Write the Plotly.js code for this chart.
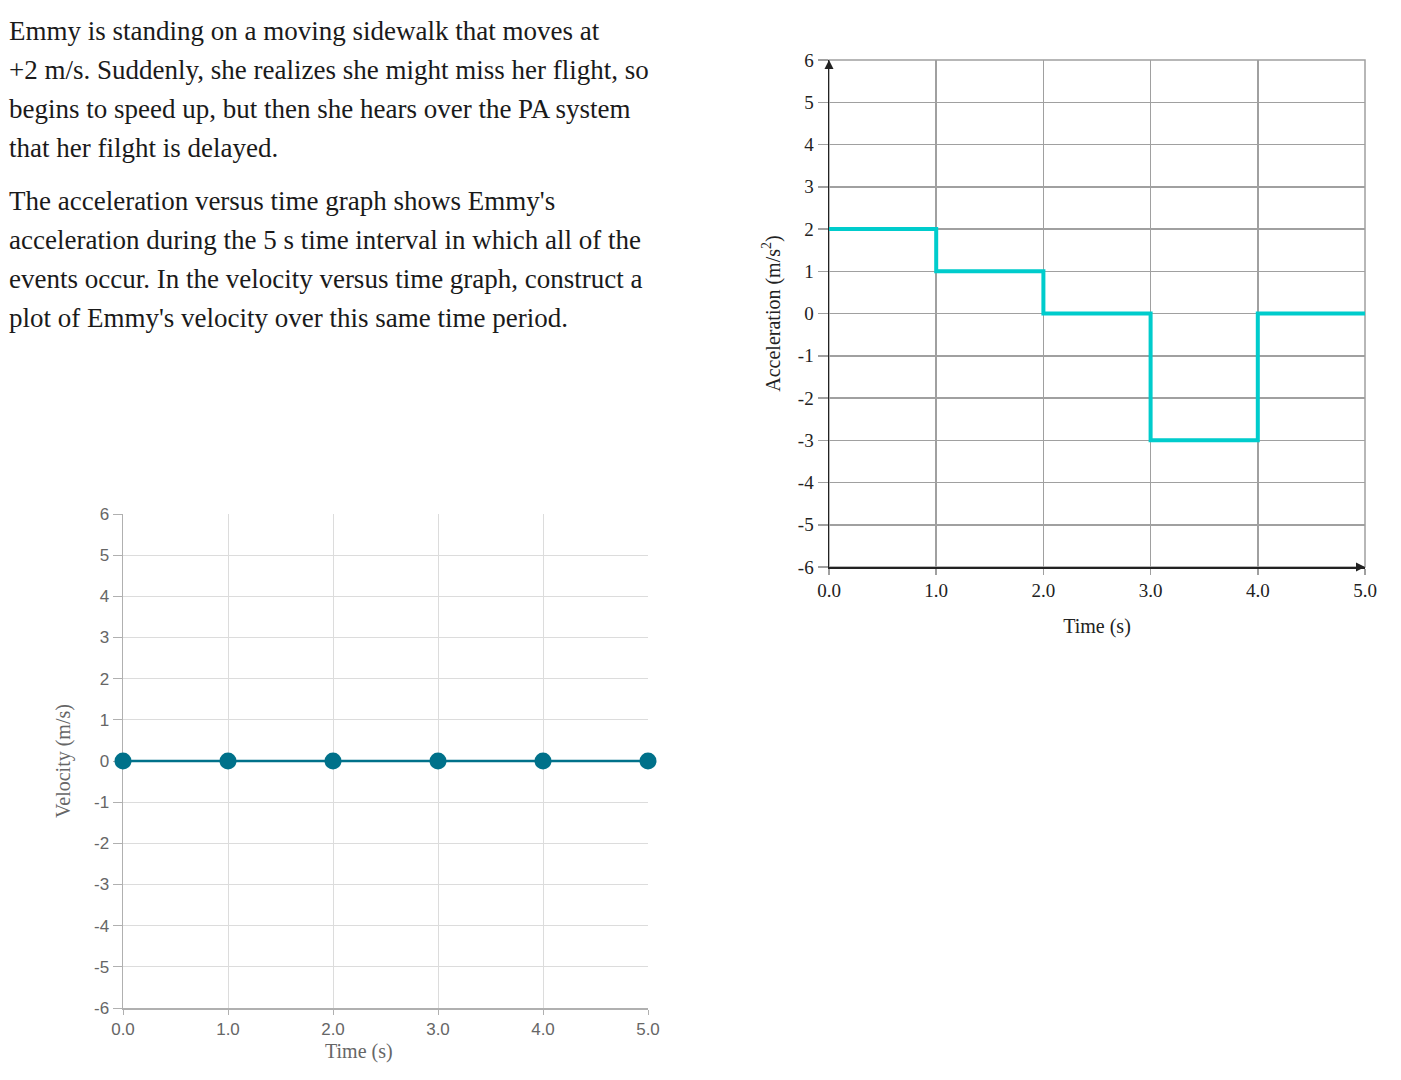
<!DOCTYPE html>
<html>
<head>
<meta charset="utf-8">
<script src="https://cdn.plot.ly/plotly-3.0.1.min.js"></script>
<style>html,body{margin:0;padding:0;background:#fff;}#chart{width:1401px;height:1080px;}</style>
</head>
<body>
<div id="chart"></div>
<script>
// ---- data ----
const accelTime = [0, 1, 2, 3, 4, 5];
const accelValues = [2, 1, 0, -3, 0, 0];
const velTime = [0, 1, 2, 3, 4, 5];
const velValues = [0, 0, 0, 0, 0, 0];
const xTickVals = [0, 1, 2, 3, 4, 5];
const xTickText = ["0.0", "1.0", "2.0", "3.0", "4.0", "5.0"];
const yTickVals = [-6, -5, -4, -3, -2, -1, 0, 1, 2, 3, 4, 5, 6];
const yTickText = ["-6", "-5", "-4", "-3", "-2", "-1", "0", "1", "2", "3", "4", "5", "6"];
const promptLines = [
  "Emmy is standing on a moving sidewalk that moves at",
  "+2 m/s. Suddenly, she realizes she might miss her flight, so",
  "begins to speed up, but then she hears over the PA system",
  "that her filght is delayed.",
  "The acceleration versus time graph shows Emmy's",
  "acceleration during the 5 s time interval in which all of the",
  "events occur. In the velocity versus time graph, construct a",
  "plot of Emmy's velocity over this same time period."
];
const promptLineY = [31, 70, 109, 148, 201, 240, 279, 318];

const W = 1401, H = 1080;
const serif = "'Liberation Serif', 'Times New Roman', serif";
const sans = "'Liberation Sans', Arial, sans-serif";

const xMin = Math.min(...accelTime), xMax = Math.max(...accelTime);
const yMin = Math.min(...yTickVals), yMax = Math.max(...yTickVals);

const traces = [
  {
    x: accelTime, y: accelValues, xaxis: 'x', yaxis: 'y',
    type: 'scatter', mode: 'lines', line: {shape: 'hv', color: '#00cccc', width: 4},
    hoverinfo: 'skip', cliponaxis: false
  },
  {
    // axis arrowheads (tip at the end of each axis)
    x: [xMin, xMax], y: [yMax, yMin], xaxis: 'x', yaxis: 'y',
    type: 'scatter', mode: 'markers',
    marker: {symbol: ['arrow-up', 'arrow-right'], size: 9, color: '#222', line: {width: 0}},
    hoverinfo: 'skip', cliponaxis: false
  },
  {
    x: velTime, y: velValues, xaxis: 'x2', yaxis: 'y2',
    type: 'scatter', mode: 'lines+markers',
    line: {color: '#00718a', width: 2.5},
    marker: {color: '#00718a', size: 17},
    hoverinfo: 'skip', cliponaxis: false
  }
];

const annotations = promptLines.map((t, i) => ({
  text: t, xref: 'paper', yref: 'paper', x: 7 / W, y: 1 - promptLineY[i] / H,
  xanchor: 'left', yanchor: 'middle', showarrow: false,
  font: {family: serif, size: 27, color: '#1a1a1a'}
}));
// velocity chart x-axis title (sits left of the plot centre in the reference)
annotations.push({
  text: 'Time (s)', xref: 'paper', yref: 'paper', x: 359 / W, y: 1 - 1051 / H,
  xanchor: 'center', yanchor: 'middle', showarrow: false,
  font: {family: serif, size: 20, color: '#666'}
});

const layout = {
  width: W, height: H,
  margin: {l: 0, r: 0, t: 0, b: 0},
  paper_bgcolor: '#fff', plot_bgcolor: '#fff',
  showlegend: false,
  shapes: [
    {type: 'rect', xref: 'x domain', yref: 'y domain', x0: 0, x1: 1, y0: 0, y1: 1,
     line: {color: '#a0a0a0', width: 1.5}, fillcolor: 'rgba(0,0,0,0)', layer: 'below'}
  ],
  xaxis: {
    domain: [829 / W, 1365 / W], anchor: 'y', range: [xMin, xMax],
    tickvals: xTickVals, ticktext: xTickText,
    showgrid: true, gridcolor: '#a0a0a0', gridwidth: 1.5,
    zeroline: false, showline: true, linecolor: '#222', linewidth: 1.5,
    ticks: 'outside', ticklen: 6, tickcolor: '#a0a0a0', tickwidth: 1.5,
    tickfont: {family: serif, size: 19, color: '#222'},
    title: {text: 'Time (s)', font: {family: serif, size: 20, color: '#222'}, standoff: 18},
    fixedrange: true
  },
  yaxis: {
    domain: [1 - 567 / H, 1 - 60 / H], anchor: 'x', range: [yMin, yMax],
    tickvals: yTickVals, ticktext: yTickText,
    showgrid: true, gridcolor: '#a0a0a0', gridwidth: 1.5,
    zeroline: false, showline: true, linecolor: '#222', linewidth: 1.5,
    ticks: 'outside', ticklen: 10, tickcolor: '#a0a0a0', tickwidth: 1.5,
    tickfont: {family: serif, size: 19, color: '#222'},
    title: {text: 'Acceleration (m/s<sup>2</sup>)', font: {family: serif, size: 20, color: '#222'}, standoff: 12},
    fixedrange: true
  },
  xaxis2: {
    domain: [123 / W, 648 / W], anchor: 'y2', range: [xMin, xMax],
    tickvals: xTickVals, ticktext: xTickText,
    showgrid: true, gridcolor: '#dcdcdc', gridwidth: 1,
    zeroline: false, showline: true, linecolor: '#b0b0b0', linewidth: 1.5,
    ticks: 'outside', ticklen: 5, tickcolor: '#b0b0b0',
    tickfont: {family: sans, size: 17, color: '#666'},
    layer: 'below traces',
    fixedrange: true
  },
  yaxis2: {
    domain: [1 - 1008 / H, 1 - 514 / H], anchor: 'x2', range: [yMin, yMax],
    tickvals: yTickVals, ticktext: yTickText,
    showgrid: true, gridcolor: '#dcdcdc', gridwidth: 1,
    zeroline: false, showline: true, linecolor: '#b0b0b0', linewidth: 1.5,
    ticks: 'outside', ticklen: 9, tickcolor: '#b0b0b0',
    tickfont: {family: sans, size: 17, color: '#666'},
    title: {text: 'Velocity (m/s)', font: {family: serif, size: 20, color: '#666'}, standoff: 18},
    layer: 'below traces',
    fixedrange: true
  },
  annotations: annotations
};

Plotly.newPlot('chart', traces, layout, {displayModeBar: false, staticPlot: true});
</script>
</body>
</html>
